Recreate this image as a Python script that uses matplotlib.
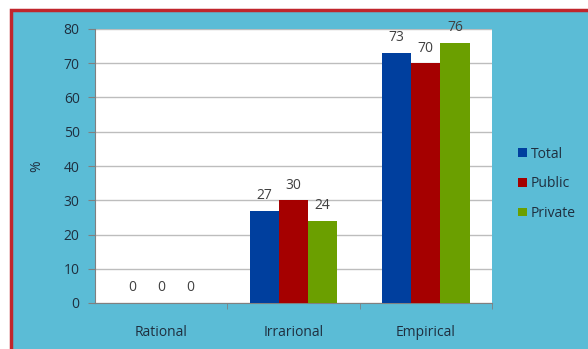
import matplotlib.pyplot as plt
import numpy as np
from matplotlib.patches import Rectangle

categories = ['Rational', 'Irrarional', 'Empirical']
total = [0, 27, 73]
public = [0, 30, 70]
private = [0, 24, 76]
series = [('Total', total, '#003f9e'), ('Public', public, '#a50000'), ('Private', private, '#6b9f00')]

plt.rcParams['font.family'] = ['Open Sans', 'DejaVu Sans']

W, H = 588, 349
fig = plt.figure(figsize=(W / 100, H / 100), dpi=100, facecolor='white')
# blue panel with red frame
fig.patches.append(Rectangle((10.5 / W, -0.1), 1.2, 1 - 10.5 / H + 0.1, transform=fig.transFigure,
                             facecolor='#5bbcd6', edgecolor='#c0262c', linewidth=2.5, zorder=-10))

ax = fig.add_axes([95 / W, 1 - 303 / H, 397 / W, 274 / H])
ax.set_facecolor('white')

x = np.arange(len(categories))
bw = 0.22
for i, (name, vals, col) in enumerate(series):
    pos = x + (i - 1) * bw
    ax.bar(pos, vals, bw, color=col, label=name, zorder=3)
    for p, v in zip(pos, vals):
        ax.text(p, v + 2.2, str(v), ha='center', va='bottom', fontsize=10, color='#404040', zorder=4)

ax.set_xlim(-0.5, 2.5)
ax.set_ylim(0, 80)
ax.set_yticks(range(0, 81, 10))
ax.yaxis.grid(True, color='#bdbdbd', linewidth=1, zorder=0)
ax.set_axisbelow(True)
ax.set_xticks(x)
ax.set_xticklabels(categories, fontsize=10, color='#1f2f3f')
ax.set_xticks([0.5, 1.5, 2.5], minor=True)
ax.tick_params(axis='x', which='major', length=0, pad=16)
ax.tick_params(axis='x', which='minor', length=4, color='#808080', direction='out')
ax.tick_params(axis='y', labelsize=10, labelcolor='#1f2f3f', length=5, color='#808080', pad=6)
for s in ['top', 'right']:
    ax.spines[s].set_visible(False)
ax.spines['left'].set_color('#808080')
ax.spines['bottom'].set_color('#808080')
ax.set_ylabel('%', fontsize=10, color='#1f2f3f', labelpad=14)

leg = ax.legend(loc='center left', bbox_to_anchor=(1.035, 0.435), frameon=False, fontsize=10,
                handlelength=0.6, handleheight=0.6, handletextpad=0.3, labelspacing=1.05)
for t in leg.get_texts():
    t.set_color('#1f2f3f')

fig.savefig('out.png', dpi=100, facecolor='white')
